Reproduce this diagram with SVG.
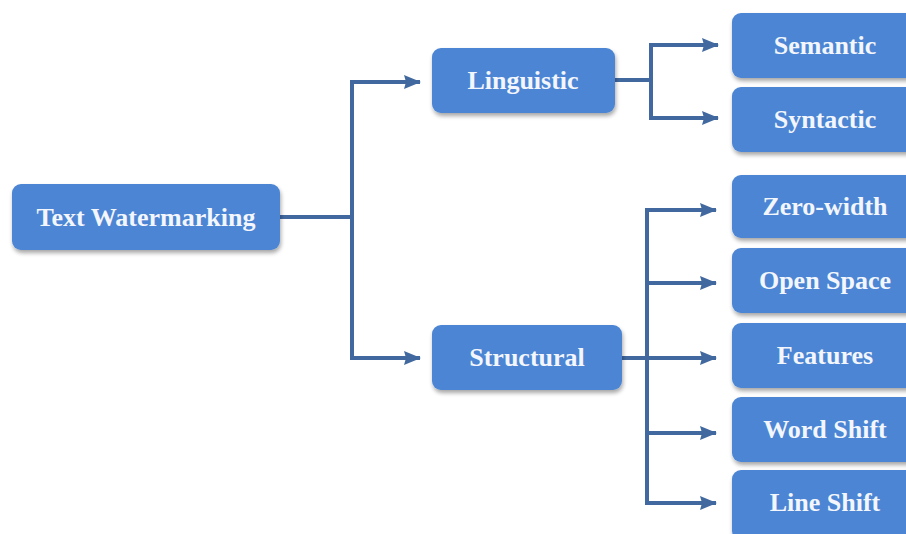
<svg xmlns="http://www.w3.org/2000/svg" width="906" height="534" viewBox="0 0 906 534">
  <defs>
    <filter id="shadow" x="-10%" y="-20%" width="120%" height="150%">
      <feGaussianBlur in="SourceAlpha" stdDeviation="2"/>
      <feOffset dx="1" dy="3" result="b"/>
      <feComponentTransfer><feFuncA type="linear" slope="0.35"/></feComponentTransfer>
      <feMerge><feMergeNode/><feMergeNode in="SourceGraphic"/></feMerge>
    </filter>
    <marker id="arrow" viewBox="0 0 17 15" refX="16" refY="7.5" markerWidth="17" markerHeight="15" markerUnits="userSpaceOnUse" orient="auto">
      <path d="M0,0.5 L17,7.5 L0,14.5 L2,7.5 Z" fill="#42699f"/>
    </marker>
  </defs>
  <style>
    .box { fill: #4c85d3; filter: url(#shadow); }
    .lbl { font-family: "Liberation Serif", "Times New Roman", serif; font-weight: bold; font-size: 26px; fill: #f3f6fc; text-anchor: middle; }
    .wire { fill: none; stroke: #42699f; stroke-width: 4; }
    .arr { fill: none; stroke: #42699f; stroke-width: 4; marker-end: url(#arrow); }
  </style>
  <rect width="906" height="534" fill="#ffffff"/>

  <g id="connectors">
    <!-- root to level 1 -->
    <path class="wire" d="M280,217 H352 M352,80 V360"/>
    <path class="arr" d="M352,82 H420"/>
    <path class="arr" d="M352,358 H420"/>
    <!-- Linguistic branch -->
    <path class="wire" d="M615,80 H651 M651,43 V120"/>
    <path class="arr" d="M651,45 H718"/>
    <path class="arr" d="M651,118 H718"/>
    <!-- Structural branch -->
    <path class="wire" d="M622,358 H647 M647,208 V505"/>
    <path class="arr" d="M647,210 H716"/>
    <path class="arr" d="M647,283 H716"/>
    <path class="arr" d="M647,358 H716"/>
    <path class="arr" d="M647,433 H716"/>
    <path class="arr" d="M647,503 H716"/>
  </g>

  <g id="text-watermarking">
    <rect class="box" x="12" y="184" width="268" height="66" rx="9"/>
    <text class="lbl" x="146" y="226">Text Watermarking</text>
  </g>
  <g id="linguistic">
    <rect class="box" x="432" y="48" width="183" height="65" rx="9"/>
    <text class="lbl" x="523" y="89">Linguistic</text>
  </g>
  <g id="structural">
    <rect class="box" x="432" y="325" width="190" height="65" rx="9"/>
    <text class="lbl" x="527" y="366">Structural</text>
  </g>
  <g id="semantic">
    <rect class="box" x="732" y="13" width="190" height="65" rx="9"/>
    <text class="lbl" x="825" y="54">Semantic</text>
  </g>
  <g id="syntactic">
    <rect class="box" x="732" y="87" width="190" height="65" rx="9"/>
    <text class="lbl" x="825" y="128">Syntactic</text>
  </g>
  <g id="zero-width">
    <rect class="box" x="732" y="175" width="190" height="63" rx="9"/>
    <text class="lbl" x="825" y="215">Zero-width</text>
  </g>
  <g id="open-space">
    <rect class="box" x="732" y="248" width="190" height="65" rx="9"/>
    <text class="lbl" x="825" y="289">Open Space</text>
  </g>
  <g id="features">
    <rect class="box" x="732" y="323" width="190" height="65" rx="9"/>
    <text class="lbl" x="825" y="364">Features</text>
  </g>
  <g id="word-shift">
    <rect class="box" x="732" y="397" width="190" height="65" rx="9"/>
    <text class="lbl" x="825" y="438">Word Shift</text>
  </g>
  <g id="line-shift">
    <rect class="box" x="732" y="470" width="190" height="70" rx="9"/>
    <text class="lbl" x="825" y="511">Line Shift</text>
  </g>
</svg>
